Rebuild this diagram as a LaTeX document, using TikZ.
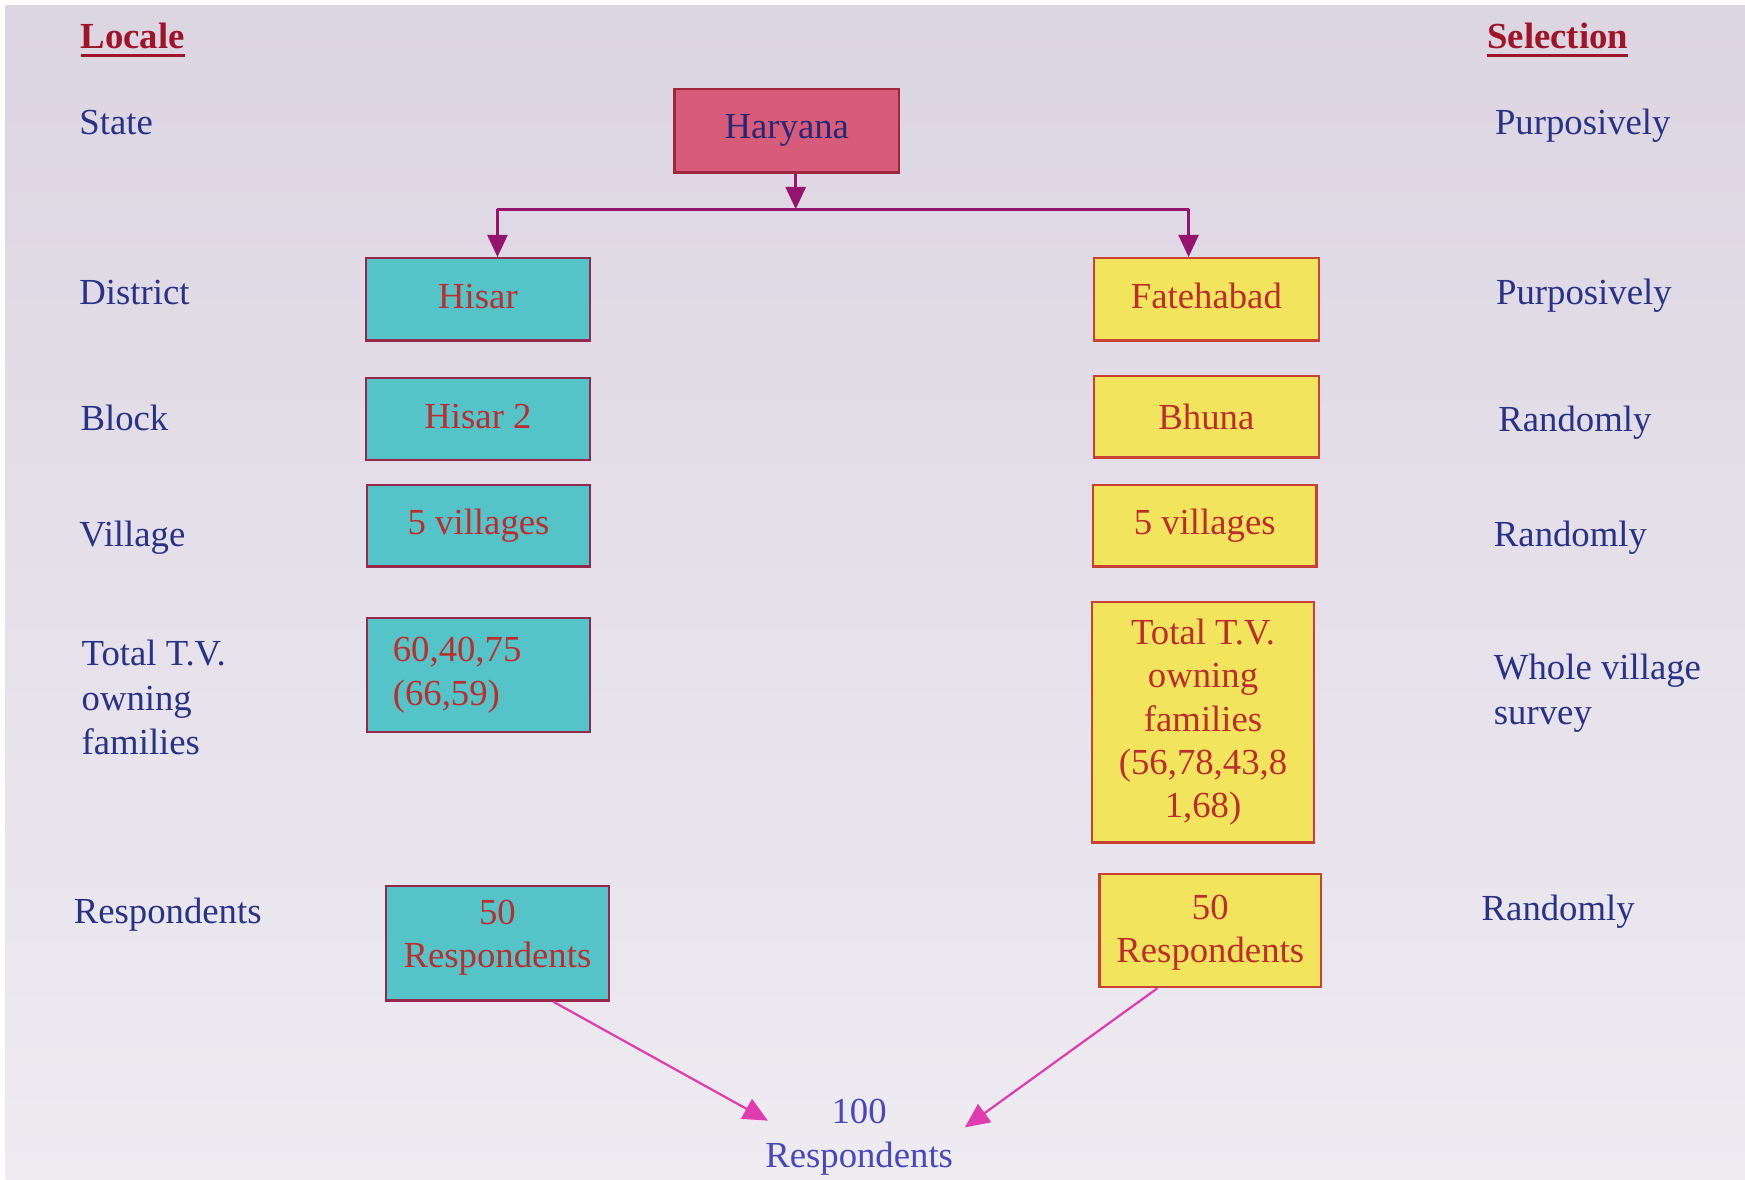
\documentclass[tikz,border=0pt]{standalone}
\usepackage{fontspec}
\setmainfont{Liberation Serif}
\usetikzlibrary{arrows.meta}
\definecolor{bgtop}{RGB}{220,213,226}
\definecolor{bgmid}{RGB}{238,223,238}
\definecolor{bgbot}{RGB}{238,235,241}
\definecolor{harfill}{RGB}{214,92,122}
\definecolor{harline}{RGB}{160,40,60}
\definecolor{tealfill}{RGB}{84,196,200}
\definecolor{tealline}{RGB}{150,40,75}
\definecolor{yelfill}{RGB}{242,228,92}
\definecolor{yelline}{RGB}{200,65,50}
\definecolor{boxtext}{RGB}{190,45,45}
\definecolor{hartext}{RGB}{40,40,120}
\definecolor{lblblue}{RGB}{40,50,135}
\definecolor{hdred}{RGB}{160,20,40}
\definecolor{topconncol}{RGB}{150,20,110}
\definecolor{botconncol}{RGB}{225,60,175}
\definecolor{hundredcol}{RGB}{72,72,190}
\newcommand\fsz{\fontsize{16.5}{20}\selectfont}
\newcommand\ulhead[1]{\setbox0=\hbox{#1}\rlap{\rule[-3.5pt]{\wd0}{1.2pt}}\box0}
\newcommand\up[2]{\raisebox{#1}[\height][\depth]{#2}}
\begin{document}
\begin{tikzpicture}[x=0.5pt,y=-0.5pt,
  box/.style={draw, line width=1pt, inner sep=0pt, font=\fsz, align=center, text=boxtext},
  redbox/.style={box, fill=harfill, draw=harline, text=hartext},
  tealbox/.style={box, fill=tealfill, draw=tealline},
  yelbox/.style={box, fill=yelfill, draw=yelline},
  lbl/.style={anchor=base west, text=lblblue, font=\fsz, inner sep=0pt},
  mlbl/.style={anchor=west, text=lblblue, font=\fsz, inner sep=0pt, align=left},
  head/.style={anchor=base west, text=hdred, font=\fsz\bfseries, inner sep=0pt},
  topconn/.style={draw=topconncol, line width=1.2pt, -{Triangle[length=10pt,width=9pt]}},
  topline/.style={draw=topconncol, line width=1.2pt},
  botconn/.style={draw=botconncol, line width=1pt, -{Triangle[length=11pt,width=10pt]}}
]
\fill[white] (0,0) rectangle (1568,1060);
\shade[top color=bgtop, middle color=bgmid, bottom color=bgbot] (5,5) rectangle (1568,1060);
\useasboundingbox (0,0) rectangle (1568,1060);

% headers
\node[head] (locale) at (72,44) {\ulhead{Locale}};
\node[head] (selection) at (1336,44) {\ulhead{Selection}};

% left labels
\node[lbl] (lstate) at (71,121) {State};
\node[lbl] (ldistrict) at (71,274) {District};
\node[lbl] (lblock) at (72,387) {Block};
\node[lbl] (lvillage) at (71,491) {Village};
\node[mlbl] (lfam) at (73,627) {Total T.V.\\owning\\families};
\node[lbl] (lresp) at (66,830) {Respondents};

% right labels
\node[lbl] (rstate) at (1343,121) {Purposively};
\node[lbl] (rdistrict) at (1344,274) {Purposively};
\node[lbl] (rblock) at (1346,388) {Randomly};
\node[lbl] (rvillage) at (1342,491) {Randomly};
\node[mlbl] (rfam) at (1342,623) {Whole village\\survey};
\node[lbl] (rresp) at (1331,827) {Randomly};

% boxes
\node[redbox, minimum width=101pt, minimum height=37.5pt] (har) at (707,117.5) {Haryana};
\node[tealbox, minimum width=100.5pt, minimum height=37pt] (hisar) at (429.5,269) {\up{1.5pt}{Hisar}};
\node[yelbox, minimum width=101pt, minimum height=37pt] (fateh) at (1084,269) {\up{1.5pt}{Fatehabad}};
\node[tealbox, minimum width=100.5pt, minimum height=36.5pt] (hisar2) at (429.5,376.5) {\up{1pt}{Hisar 2}};
\node[yelbox, minimum width=101pt, minimum height=36.5pt] (bhuna) at (1084,374.5) {Bhuna};
\node[tealbox, minimum width=100pt, minimum height=36.5pt] (vilL) at (430,472.5) {5 villages};
\node[yelbox, minimum width=100.5pt, minimum height=36.5pt] (vilR) at (1082.5,472.5) {5 villages};
\node[tealbox, align=left, text width=77pt, inner xsep=11.5pt, minimum height=51.5pt] (famL) at (430,606.5) {60,40,75\\(66,59)};
\node[yelbox, minimum width=100pt, minimum height=108pt, font=\fontsize{16.5}{19.5}\selectfont] (famR) at (1081,649) {Total T.V.\\owning\\families\\(56,78,43,8\\1,68)};
\node[tealbox, minimum width=100pt, minimum height=51.5pt] (resL) at (447,847.5) {\up{2.5pt}{\shortstack{50\\[5pt]Respondents}}};
\node[yelbox, minimum width=99.5pt, minimum height=51pt] (resR) at (1087.5,836) {\up{-1pt}{\shortstack{50\\[5pt]Respondents}}};

\node[font=\fsz, text=hundredcol, align=center, inner sep=0pt] (hundred) at (772,1022) {100\\Respondents};

% connectors
\coordinate (split) at (715,188);
\coordinate (brL) at (447,188);
\coordinate (brR) at (1068,188);
\draw[topconn] (har.south -| split) -- (split);
\draw[topline] (brL) -- (brR);
\draw[topconn] (brL) -- (brL |- hisar.north);
\draw[topconn] (brR) -- (brR |- fateh.north);

\coordinate (tipL) at (690,1007);
\coordinate (tipR) at (867,1013);
\draw[botconn] ([xshift=25pt]resL.south) -- (tipL);
\draw[botconn] ([xshift=-23.75pt]resR.south) -- (tipR);
\end{tikzpicture}
\end{document}
